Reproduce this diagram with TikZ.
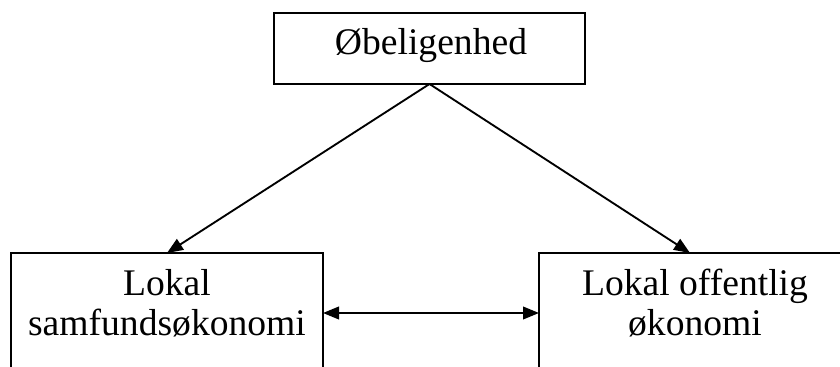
\documentclass[tikz,border=0pt]{standalone}
\usepackage{fontspec}
\setmainfont{Liberation Serif}
\usetikzlibrary{arrows.meta}
\begin{document}
\begin{tikzpicture}[x=0.75pt,y=-0.75pt,
  box/.style={draw=black,line width=1.5pt,inner sep=0pt,outer sep=0pt},
  lbl/.style={font=\fontsize{28.2}{30.75}\selectfont,align=center,inner sep=0pt,anchor=base},
  conn/.style={line width=1.4pt,-{Triangle[length=12pt,width=9.5pt]}},
  dconn/.style={line width=1.4pt,{Triangle[length=12pt,width=9.5pt]}-{Triangle[length=12pt,width=9.5pt]}}]
\useasboundingbox (0,0) rectangle (840,367);
\clip (0,0) rectangle (840,367);
\node[box,minimum width=311*0.75pt,minimum height=71*0.75pt,anchor=north west] (T) at (274,13) {};
\node[box,minimum width=312*0.75pt,minimum height=160*0.75pt,anchor=north west] (L) at (11,253) {};
\node[box,minimum width=302*0.75pt,minimum height=160*0.75pt,anchor=north west] (R) at (539,253) {};
\node[lbl] (tT) at (431,55) {Øbeligenhed};
\node[lbl] (tL) at (167,336) {Lokal\\samfundsøkonomi};
\node[lbl] (tR) at (695,336) {Lokal offentlig\\økonomi};
\draw[conn] (T.south) -- (L.north);
\draw[conn] (T.south) -- (R.north);
\draw[dconn] (L.east |- 0,313) -- (R.west |- 0,313);
\end{tikzpicture}
\end{document}
